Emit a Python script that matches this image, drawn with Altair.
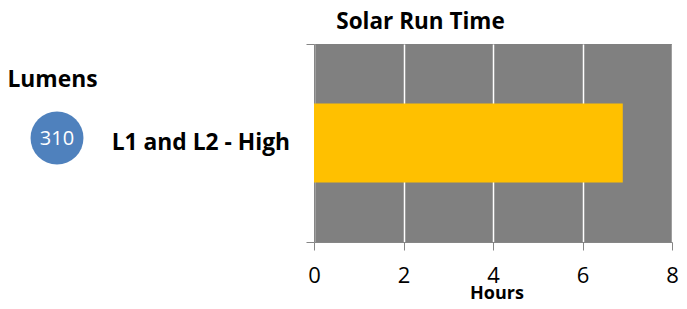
import altair as alt
import pandas as pd

categories = ["L1 and L2 - High"]
hours = [6.9]
lumens = [310]
x_ticks = [0, 2, 4, 6, 8]

bars = pd.DataFrame({"category": categories, "hours": hours, "y0": [0.3], "y1": [0.7], "ymid": [0.5]})
lum = pd.DataFrame({"lumens": [str(v) for v in lumens]})

FONT = "Open Sans"

base = alt.Chart(bars)

bar = base.mark_bar(color="#FFC000").encode(
    x=alt.X("hours:Q", scale=alt.Scale(domain=[0, 8], nice=False),
            axis=alt.Axis(values=x_ticks, title=None, grid=True, gridColor="white",
                          gridWidth=1.5, domainColor="#868686", tickColor="#868686",
                          tickSize=8, labelFontSize=22, labelFont=FONT, labelColor="black",
                          labelPadding=15, labelFlush=False)),
    x2=alt.value(0),
    y=alt.Y("y0:Q", scale=alt.Scale(domain=[0, 1], nice=False),
            axis=alt.Axis(values=[0, 1], labels=False, title=None, grid=False,
                          domainColor="#868686", tickColor="#868686", tickSize=8)),
    y2="y1:Q",
)

cat_label = base.mark_text(align="right", baseline="middle", font=FONT, fontSize=22.8,
                           fontWeight="bold", color="black").encode(
    x=alt.value(-24), y="ymid:Q", text="category:N")

x_title = alt.Chart(pd.DataFrame({"t": ["Hours"]})).mark_text(
    align="center", baseline="alphabetic", font=FONT, fontSize=18, fontWeight="bold", color="black"
).encode(x=alt.value(183), y=alt.value(255), text="t:N")

title = alt.Chart(pd.DataFrame({"t": ["Solar Run Time"]})).mark_text(
    align="center", baseline="middle", font=FONT, fontSize=22.5, fontWeight="bold", color="black"
).encode(x=alt.value(106.5), y=alt.value(-22), text="t:N")

lumens_title = alt.Chart(pd.DataFrame({"t": ["Lumens"]})).mark_text(
    align="center", baseline="middle", font=FONT, fontSize=22.8, fontWeight="bold", color="black"
).encode(x=alt.value(-261.5), y=alt.value(36), text="t:N")

circle = alt.Chart(lum).mark_point(shape="circle", filled=True, size=2800, color="#4F81BD", opacity=1).encode(
    x=alt.value(-257), y=alt.value(94))

circle_text = alt.Chart(lum).mark_text(align="center", baseline="middle", font=FONT, fontSize=20,
                                       color="white").encode(
    x=alt.value(-257), y=alt.value(95), text="lumens:N")

chart = alt.layer(bar, cat_label, x_title, title, lumens_title, circle, circle_text).properties(
    width=358, height=198,
    padding={"left": 306, "top": 36, "right": 7, "bottom": 59},
    autosize=alt.AutoSizeParams(type="none"),
).configure_view(fill="#808080", stroke=None)

chart.save("out.html", embed_options={"renderer": "svg", "actions": False})
